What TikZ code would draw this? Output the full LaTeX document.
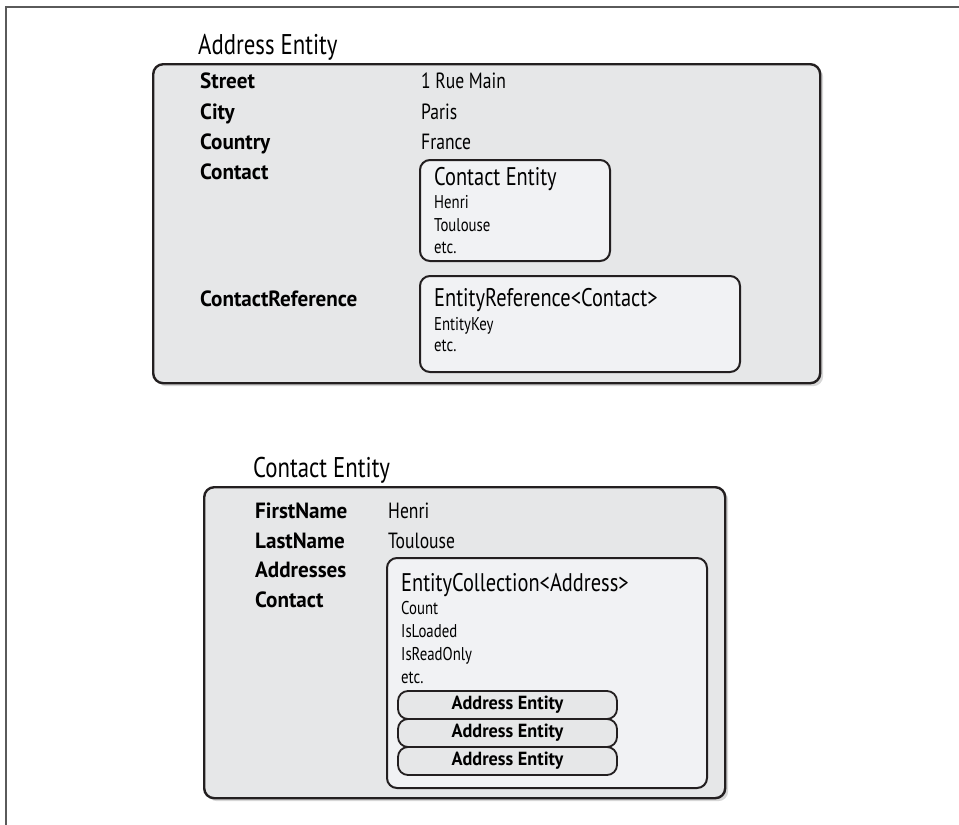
\documentclass[tikz,border=0pt]{standalone}
\usepackage{fontspec}
\setmainfont{PT Sans}[FakeStretch=0.8,BoldFeatures={FakeStretch=0.96}]
\usetikzlibrary{positioning,shadows}
\definecolor{boxgray}{HTML}{E6E7E8}
\definecolor{innergray}{HTML}{F1F2F4}
\definecolor{edge}{HTML}{231F20}
\definecolor{framegray}{HTML}{5A5A5A}
\tikzset{entitybox/.style={draw=edge,fill=boxgray,line width=2.4pt,rounded corners=10pt,anchor=north west,inner sep=0pt,drop shadow={shadow xshift=3pt,shadow yshift=-3pt,opacity=.35,fill=black!45}},innerbox/.style={draw=edge,fill=innergray,line width=2pt,rounded corners=10pt,anchor=north west,inner sep=0pt},pillbox/.style={draw=edge,fill=boxgray,line width=1.8pt,rounded corners=10pt,minimum width=219pt,minimum height=28pt,inner sep=0pt,font=\fontsize{19}{23}\selectfont\bfseries},titletext/.style={anchor=base west,inner sep=0pt,font=\fontsize{28.5}{34}\selectfont},fieldtext/.style={anchor=base west,inner sep=0pt,font=\fontsize{22}{26}\selectfont\bfseries},valtext/.style={anchor=base west,inner sep=0pt,font=\fontsize{22}{26}\selectfont},headtext/.style={anchor=base west,inner sep=0pt,font=\fontsize{25.5}{30}\selectfont},smalltext/.style={anchor=base west,inner sep=0pt,font=\fontsize{18.5}{22}\selectfont}}

\begin{document}
\begin{tikzpicture}[x=1pt,y=-1pt]
\useasboundingbox (0,0) rectangle (959,825);
\draw[framegray,line width=1.5pt] (6,825)--(6,7)--(959,7);
% address entity
\node[titletext] (addrtitle) at (198,54) {Address Entity};
\node[entitybox,minimum width=667pt,minimum height=319pt] (addrbox) at (152,63) {};
\node[fieldtext] (street) at (200,88) {Street};
\node[fieldtext] (city) at (200,119) {City};
\node[fieldtext] (country) at (200,149) {Country};
\node[fieldtext] (contact) at (200,179) {Contact};
\node[fieldtext] (contactref) at (200,306) {ContactReference};
\node[valtext] (streetval) at (421,88) {1 Rue Main};
\node[valtext] (cityval) at (421,119) {Paris};
\node[valtext] (countryval) at (421,149) {France};
\node[innerbox,minimum width=190pt,minimum height=101pt] (contactbox) at (419,159) {};
\node[headtext] (contacthead) at (434,185) {Contact Entity};
\node[smalltext] (henri) at (434,208) {Henri};
\node[smalltext] (toulouse) at (434,231) {Toulouse};
\node[smalltext] (contactetc) at (434,253) {etc.};
\node[innerbox,minimum width=320pt,minimum height=96pt] (refbox) at (419,275) {};
\node[headtext] (refhead) at (434,306) {EntityReference<Contact>};
\node[smalltext] (entitykey) at (434,330) {EntityKey};
\node[smalltext] (refetc) at (434,351) {etc.};
% contact entity
\node[titletext] (contitle) at (253,477) {Contact Entity};
\node[entitybox,minimum width=521pt,minimum height=311pt] (conbox) at (203,486) {};
\node[fieldtext] (firstname) at (255,518) {FirstName};
\node[fieldtext] (lastname) at (255,548) {LastName};
\node[fieldtext] (addresses) at (255,577) {Addresses};
\node[fieldtext] (concontact) at (255,607) {Contact};
\node[valtext] (firstval) at (388,518) {Henri};
\node[valtext] (lastval) at (388,548) {Toulouse};
\node[innerbox,minimum width=320pt,minimum height=230pt] (collbox) at (386,557) {};
\node[headtext] (collhead) at (401,591) {EntityCollection<Address>};
\node[smalltext] (count) at (401,614) {Count};
\node[smalltext] (isloaded) at (401,637) {IsLoaded};
\node[smalltext] (isreadonly) at (401,660) {IsReadOnly};
\node[smalltext] (colletc) at (401,683) {etc.};
\foreach \i/\y in {1/705,2/733,3/761}
  \node[pillbox] (addr\i) at (507.5,\y) {Address Entity};
\end{tikzpicture}
\end{document}
